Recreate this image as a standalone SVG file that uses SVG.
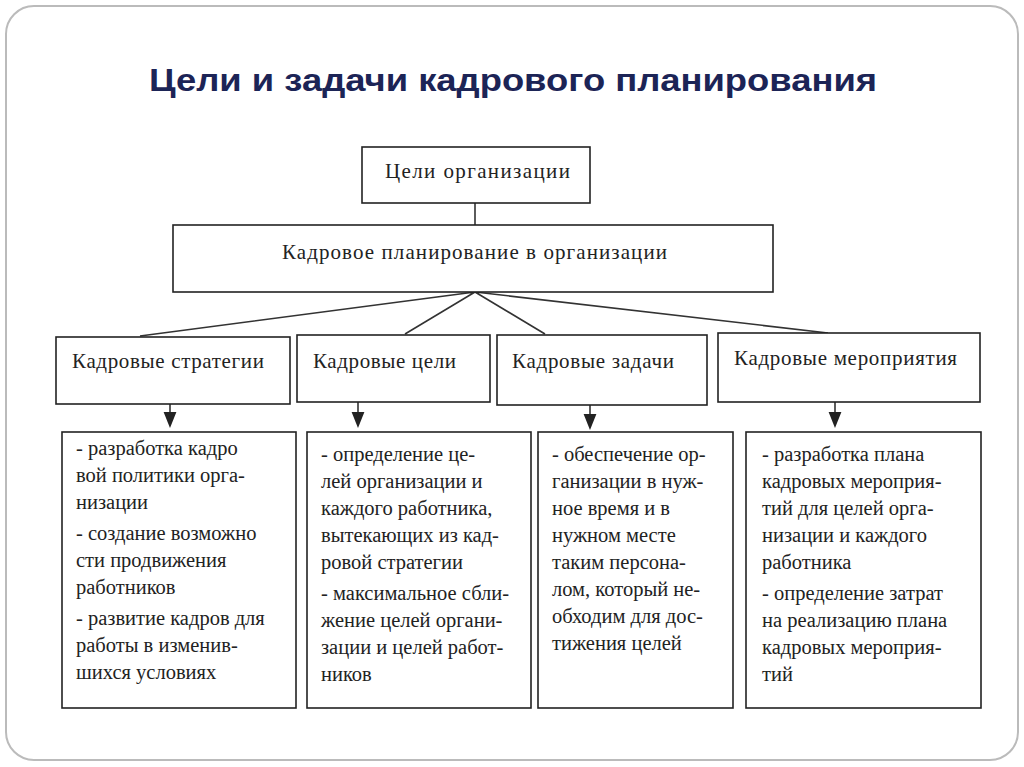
<svg xmlns="http://www.w3.org/2000/svg" width="1024" height="767" viewBox="0 0 1024 767">
<style>
.b{fill:#fff;stroke:#222;stroke-width:1.6}
.t{font-family:"Liberation Serif",serif;font-size:20.5px;fill:#222}
.h{font-family:"Liberation Serif",serif;font-size:21px;fill:#222}
.c{stroke:#333;stroke-width:1.6;fill:none}
</style>
<defs><marker id="a" markerWidth="10" markerHeight="10" refX="5" refY="5" orient="auto"><path d="M0,1 L10,5 L0,9 z" fill="#222"/></marker></defs>
<rect width="1024" height="767" fill="#fff"/>
<rect x="6" y="6" width="1012" height="754" rx="28" fill="#fff" stroke="#bbb" stroke-width="2"/>
<text x="149" y="91" textLength="728" lengthAdjust="spacingAndGlyphs" font-family="Liberation Sans,sans-serif" font-weight="bold" font-size="31" fill="#1c2456">Цели и задачи кадрового планирования</text>
<g id="connectors">
<path class="c" d="M475,203 V225"/>
<path class="c" d="M475,292 L140,336 M475,292 L405,334 M475,292 L545,334 M475,292 L828,333"/>
<path class="c" d="M170,404 V420" marker-end="url(#a)"/>
<path class="c" d="M358,402 V420" marker-end="url(#a)"/>
<path class="c" d="M590,405 V422" marker-end="url(#a)"/>
<path class="c" d="M835,402 V420" marker-end="url(#a)"/>
</g>
<g id="goals"><rect class="b" x="362" y="147" width="228" height="56"/><text class="h" x="385" y="178" textLength="185">Цели организации</text></g>
<g id="plan"><rect class="b" x="173" y="225" width="600" height="67"/><text class="h" x="282" y="259" textLength="385">Кадровое планирование в организации</text></g>
<g id="n1"><rect class="b" x="56" y="337" width="234" height="67"/><text class="h" x="72" y="368" textLength="192">Кадровые стратегии</text></g>
<g id="n2"><rect class="b" x="297" y="335" width="193" height="67"/><text class="h" x="313" y="368" textLength="143">Кадровые цели</text></g>
<g id="n3"><rect class="b" x="497" y="335" width="210" height="70"/><text class="h" x="512" y="368" textLength="162">Кадровые задачи</text></g>
<g id="n4"><rect class="b" x="718" y="333" width="262" height="69"/><text class="h" x="734" y="365" textLength="223">Кадровые мероприятия</text></g>
<g id="d1"><rect class="b" x="62" y="432" width="234" height="276"/>
<text class="t" x="76" y="455"><tspan x="76">- разработка кадро</tspan><tspan x="76" dy="27">вой политики орга-</tspan><tspan x="76" dy="27">низации</tspan><tspan x="76" dy="31">- создание возможно</tspan><tspan x="76" dy="27">сти продвижения</tspan><tspan x="76" dy="27">работников</tspan><tspan x="76" dy="31">- развитие кадров для</tspan><tspan x="76" dy="27">работы в изменив-</tspan><tspan x="76" dy="27">шихся условиях</tspan></text></g>
<g id="d2"><rect class="b" x="307" y="432" width="224" height="276"/>
<text class="t" x="321" y="461"><tspan x="321">- определение це-</tspan><tspan x="321" dy="27">лей организации и</tspan><tspan x="321" dy="27">каждого работника,</tspan><tspan x="321" dy="27">вытекающих из кад-</tspan><tspan x="321" dy="27">ровой стратегии</tspan><tspan x="321" dy="31">- максимальное сбли-</tspan><tspan x="321" dy="27">жение целей органи-</tspan><tspan x="321" dy="27">зации и целей работ-</tspan><tspan x="321" dy="27">ников</tspan></text></g>
<g id="d3"><rect class="b" x="538" y="432" width="195" height="276"/>
<text class="t" x="552" y="461"><tspan x="552">- обеспечение ор-</tspan><tspan x="552" dy="27">ганизации в нуж-</tspan><tspan x="552" dy="27">ное время и в</tspan><tspan x="552" dy="27">нужном месте</tspan><tspan x="552" dy="27">таким персона-</tspan><tspan x="552" dy="27">лом, который не-</tspan><tspan x="552" dy="27">обходим для дос-</tspan><tspan x="552" dy="27">тижения целей</tspan></text></g>
<g id="d4"><rect class="b" x="746" y="432" width="235" height="276"/>
<text class="t" x="762" y="461"><tspan x="762">- разработка плана</tspan><tspan x="762" dy="27">кадровых мероприя-</tspan><tspan x="762" dy="27">тий для целей орга-</tspan><tspan x="762" dy="27">низации и каждого</tspan><tspan x="762" dy="27">работника</tspan><tspan x="762" dy="31">- определение затрат</tspan><tspan x="762" dy="27">на реализацию плана</tspan><tspan x="762" dy="27">кадровых мероприя-</tspan><tspan x="762" dy="27">тий</tspan></text></g>
</svg>
